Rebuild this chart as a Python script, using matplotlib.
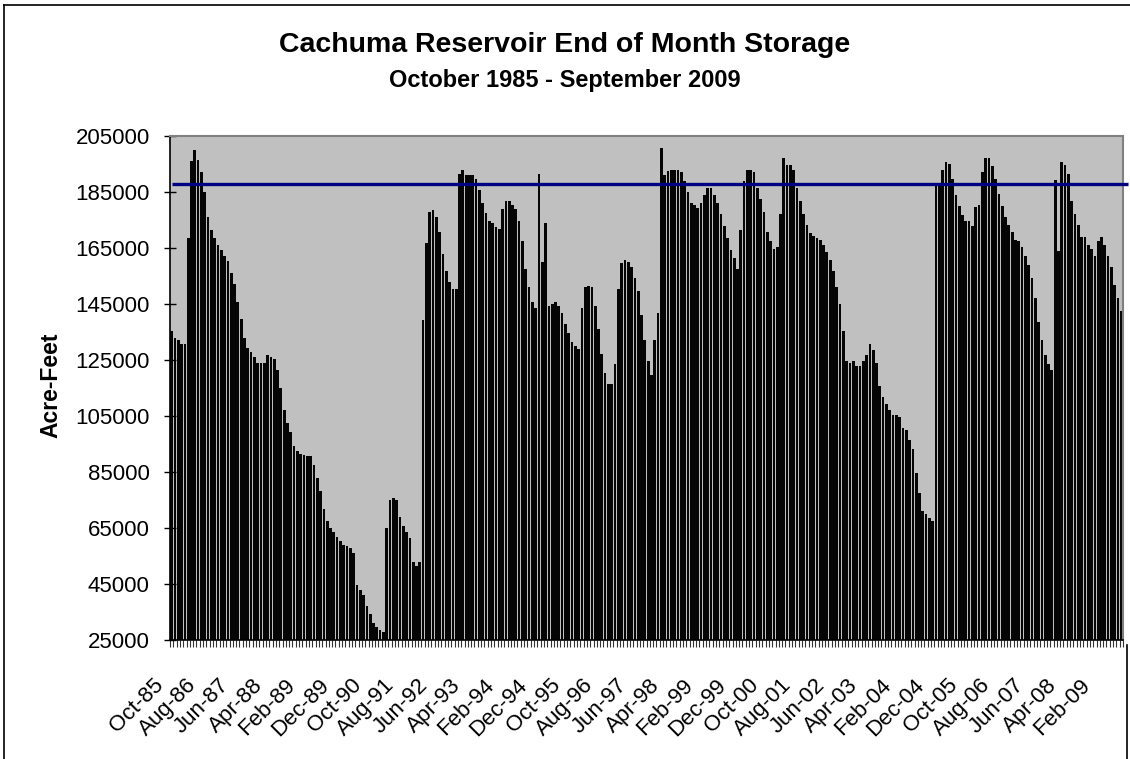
import matplotlib
matplotlib.use("Agg")
import matplotlib.pyplot as plt
from matplotlib.transforms import ScaledTranslation
from matplotlib.lines import Line2D
import numpy as np

# ---------------- data (end-of-month storage, acre-feet) ----------------
wy1986 = [135300, 132700, 132100, 130800, 130800, 168700, 196200, 200100, 196600, 192200, 185000, 175900]
wy1987 = [171400, 168700, 166200, 164200, 162100, 160200, 156200, 152200, 145700, 139800, 133000, 129300]
wy1988 = [127900, 126100, 124100, 124100, 124100, 126700, 126100, 125200, 121400, 114900, 107000, 102500]
wy1989 = [99200, 94400, 92600, 91400, 90900, 90600, 90600, 87400, 83000, 78200, 71700, 67500]
wy1990 = [65000, 63700, 61900, 60400, 59000, 58400, 57800, 55900, 44800, 42900, 40900, 37100]
wy1991 = [34400, 31200, 29700, 28500, 28000, 65100, 75000, 75600, 75000, 69000, 65700, 63700]
wy1992 = [61300, 52700, 51300, 52700, 139200, 166800, 178000, 178500, 175900, 170600, 162900, 156900]
wy1993 = [153000, 150400, 150400, 191600, 193000, 191000, 191000, 191000, 189800, 185600, 181200, 177400]
wy1994 = [174800, 173900, 172600, 171800, 179100, 181700, 181700, 180500, 179100, 174500, 167400, 157500]
wy1995 = [151000, 145700, 143700, 191400, 160100, 173900, 144300, 145000, 145700, 144300, 141800, 137900]
wy1996 = [134700, 131400, 130000, 128800, 143700, 151000, 151600, 151000, 144300, 136000, 127300, 120200]
wy1997 = [116300, 116300, 123400, 150400, 159500, 160700, 160100, 158100, 154200, 149700, 141200, 132100]
wy1998 = [124800, 119600, 132100, 141800, 200700, 191000, 192400, 193000, 193000, 193000, 192200, 189100]
wy1999 = [185100, 181200, 180400, 179200, 181200, 183800, 186400, 186400, 183800, 181200, 177100, 172700]
wy2000 = [168700, 164200, 161500, 157600, 171400, 189100, 193000, 193000, 192200, 186400, 182400, 177900]
wy2001 = [170800, 167400, 164600, 165500, 177100, 197000, 194500, 194500, 192800, 186400, 181800, 177100]
wy2002 = [173300, 170200, 169400, 168700, 167900, 166000, 163400, 160800, 156900, 151000, 144900, 135300]
wy2003 = [124800, 124100, 124800, 122900, 122900, 124800, 126700, 130700, 128700, 124100, 115700, 111700]
wy2004 = [109200, 107200, 105200, 105200, 104500, 100700, 100100, 96500, 93300, 84700, 77600, 71100]
wy2005 = [69900, 68500, 67500, 187600, 187600, 193000, 195600, 195000, 189500, 183900, 180000, 176700]
wy2006 = [174700, 174500, 172700, 179800, 180500, 192200, 197000, 197000, 194200, 189700, 184400, 179900]
wy2007 = [175900, 173300, 170600, 168000, 167400, 165500, 162000, 159000, 154200, 147100, 138600, 132100]
wy2008 = [126700, 123400, 121400, 189200, 164000, 195600, 194800, 191600, 181800, 177300, 173300, 168800]
wy2009 = [168800, 166000, 164600, 162000, 167400, 168800, 166100, 162000, 158100, 151800, 147100, 142400]

storage = (wy1986 + wy1987 + wy1988 + wy1989 + wy1990 + wy1991 + wy1992 + wy1993 +
           wy1994 + wy1995 + wy1996 + wy1997 + wy1998 + wy1999 + wy2000 + wy2001 +
           wy2002 + wy2003 + wy2004 + wy2005 + wy2006 + wy2007 + wy2008 + wy2009)

capacity = 188000

tick_labels = ["Oct-85", "Aug-86", "Jun-87", "Apr-88", "Feb-89", "Dec-89", "Oct-90",
               "Aug-91", "Jun-92", "Apr-93", "Feb-94", "Dec-94", "Oct-95", "Aug-96",
               "Jun-97", "Apr-98", "Feb-99", "Dec-99", "Oct-00", "Aug-01", "Jun-02",
               "Apr-03", "Feb-04", "Dec-04", "Oct-05", "Aug-06", "Jun-07", "Apr-08",
               "Feb-09"]
yticks = [25000, 45000, 65000, 85000, 105000, 125000, 145000, 165000, 185000, 205000]

# ---------------- figure ----------------
plt.rcParams['font.family'] = ['Liberation Sans', 'DejaVu Sans']
W, H = 1130, 759
fig = plt.figure(figsize=(W / 100, H / 100), dpi=100)

ax = fig.add_axes([170 / W, 1 - 640 / H, (1123 - 170) / W, (640 - 136) / H])
ax.set_facecolor('#C0C0C0')

n = len(storage)
x = np.arange(n)
ax.bar(x, storage, width=0.82, color='#050505', linewidth=0)

# capacity line (extends slightly beyond plot area)
ax.plot([0, n + 1], [capacity, capacity], color='#000080', linewidth=2.4,
        clip_on=False, solid_capstyle='butt', zorder=5)

ax.set_xlim(-0.5, n - 0.5)
ax.set_ylim(25000, 205000)

ax.set_yticks(yticks)
ax.set_yticklabels([str(v) for v in yticks], fontsize=16)
ax.tick_params(axis='y', direction='inout', length=9, width=1, pad=10)

pos = np.arange(0, n, 10)[:len(tick_labels)]
ax.set_xticks(pos)
ax.set_xticklabels(tick_labels, fontsize=16, rotation=45, ha='right', va='top',
                   rotation_mode='anchor')
ax.tick_params(axis='x', which='major', length=0, pad=25)
ax.set_xticks(np.arange(-0.5, n, 1), minor=True)
ax.tick_params(axis='x', which='minor', length=5, width=0.8, direction='out', color='#333333')
off = ScaledTranslation(-19 / 100, 0, fig.dpi_scale_trans)
for lab in ax.get_xticklabels():
    lab.set_transform(lab.get_transform() + off)

for s in ['top', 'right']:
    ax.spines[s].set_color('#808080')
    ax.spines[s].set_linewidth(1.5)
for s in ['left', 'bottom']:
    ax.spines[s].set_color('black')
    ax.spines[s].set_linewidth(1.2)

ax.set_ylabel('Acre-Feet', fontsize=16.5, fontweight='bold')
ax.yaxis.set_label_coords(62 / W, 1 - 385 / H, transform=fig.transFigure)

fig.text(0.5, 1 - 45 / H, 'Cachuma Reservoir End of Month Storage',
         ha='center', va='center', fontsize=20.5, fontweight='bold')
fig.text(0.5, 1 - 80 / H, 'October 1985 - September 2009',
         ha='center', va='center', fontsize=17, fontweight='bold')

# chart-area border
fig.add_artist(Line2D([4 / W, 4 / W], [0, 1 - 5 / H], transform=fig.transFigure,
                      color='black', linewidth=1.2))
fig.add_artist(Line2D([4 / W, 1], [1 - 5 / H, 1 - 5 / H], transform=fig.transFigure,
                      color='black', linewidth=1.2))
fig.add_artist(Line2D([1127 / W, 1127 / W], [0, 1 - 645 / H], transform=fig.transFigure,
                      color='black', linewidth=1.2))

fig.savefig('out.png', dpi=100)
